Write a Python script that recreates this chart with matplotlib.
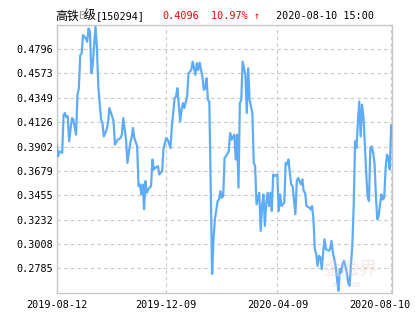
import matplotlib
matplotlib.use("Agg")
import matplotlib.pyplot as plt
import matplotlib.transforms as mtransforms

# trading-day index (0 = 2019-08-12) and NAV
days = [0, 1, 2, 4, 5, 6, 7, 8, 9, 11, 12, 14, 15, 16, 17, 18, 19, 21, 22, 23,
        24, 25, 26, 28, 29, 30, 32, 33, 34, 36, 37, 38, 40, 41, 42, 44, 46, 47, 48, 50,
        51, 53, 54, 55, 56, 58, 59, 60, 61, 62, 63,
        64, 65, 66, 68, 69, 70, 71, 73, 74, 75, 76, 77, 79, 80, 82, 83, 85, 86, 87, 88,
        89, 90, 91, 92, 94, 95, 96, 97, 98, 99, 100, 101, 102, 103, 105, 106, 107, 108, 109, 110,
        112, 113, 114, 116, 117, 118, 119, 120, 121, 122, 124, 125,
        126, 128, 129, 130, 131, 132, 133, 134, 136, 137, 138, 139, 141, 142, 143, 144, 146, 147, 148, 149,
        150, 151, 152, 153, 154, 155, 156, 157, 159, 160, 161, 162, 163, 164, 165, 166, 167, 168, 169, 170,
        172, 173, 174, 176, 177, 178, 179, 180, 182, 183, 184, 185, 186,
        187, 188, 189, 190, 191, 192, 193, 194, 196, 197, 198, 199, 200, 201, 202, 203, 204, 205, 206, 207,
        208, 209, 210, 211, 212, 213, 214, 215, 216, 217, 218, 219, 220, 221, 222, 223, 224, 225, 226, 227,
        228, 229, 230, 231, 232, 233, 234, 235, 236, 237, 238, 239, 240, 241]
nav = [0.3919, 0.3813, 0.3858, 0.3844, 0.4193, 0.4209, 0.4172, 0.4180, 0.3950, 0.4163,
       0.4150, 0.4011, 0.4376, 0.4437, 0.4741, 0.4757, 0.4924, 0.4894, 0.4863, 0.4985,
       0.4954, 0.4574, 0.4650, 0.5000, 0.4817, 0.4452, 0.4148, 0.4118, 0.3995, 0.4057,
       0.4118, 0.4255, 0.4178, 0.4132, 0.3919, 0.3965, 0.3980, 0.4011, 0.4163, 0.3965,
       0.3752, 0.3935, 0.3980, 0.4072, 0.3980, 0.3904, 0.3539, 0.3554, 0.3463, 0.3554, 0.3326,
       0.3585, 0.3478, 0.3509, 0.3539, 0.3783, 0.3691, 0.3707, 0.3722, 0.3646, 0.3661,
       0.3676, 0.3889, 0.3981, 0.3965, 0.3889, 0.4087, 0.4346, 0.4361, 0.4437, 0.4285,
       0.4132, 0.4239, 0.4300, 0.4255, 0.4361, 0.4574, 0.4589, 0.4604, 0.4680, 0.4620,
       0.4559, 0.4665, 0.4604, 0.4672, 0.4543, 0.4422, 0.4437, 0.4528, 0.4330, 0.4315,
       0.2733, 0.3052, 0.3235, 0.3402, 0.3417, 0.3493, 0.3432, 0.3448, 0.3798, 0.3813, 0.3858, 0.4026,
       0.3965, 0.4011, 0.3783, 0.4011, 0.3524, 0.4300, 0.4330, 0.4680, 0.4559, 0.4209,
       0.4620, 0.4330, 0.4209, 0.3752, 0.3722, 0.3372, 0.3478, 0.3128, 0.3357, 0.3463,
       0.3174, 0.3387, 0.3478, 0.3357, 0.3478, 0.3311, 0.3646, 0.3630, 0.3646, 0.3311,
       0.3463, 0.3357, 0.3372, 0.3387, 0.3752, 0.3737, 0.3783, 0.3661, 0.3554, 0.3539,
       0.3281, 0.3585, 0.3615, 0.3554, 0.3600, 0.3493, 0.3478, 0.3357, 0.3342, 0.3326, 0.3357, 0.3235, 0.2961,
       0.2915, 0.2808, 0.2900, 0.2885, 0.2778, 0.2931, 0.3052, 0.2961, 0.2946, 0.2961,
       0.3037, 0.2931, 0.2870, 0.2808, 0.2687, 0.2580, 0.2778, 0.2748, 0.2824, 0.2854,
       0.2808, 0.2748, 0.2657, 0.2626, 0.2808, 0.2991, 0.3357, 0.3950, 0.3889, 0.4118,
       0.4315, 0.3995, 0.4285, 0.4178, 0.3935, 0.3661, 0.3448, 0.3402, 0.3889, 0.3904,
       0.3843, 0.3752, 0.3448, 0.3235, 0.3265, 0.3372, 0.3463, 0.3417, 0.3432, 0.3707,
       0.3828, 0.3798, 0.3691, 0.4096]

y_ticks = [0.2785, 0.3008, 0.3232, 0.3455, 0.3679, 0.3902, 0.4126, 0.4349, 0.4573, 0.4796]
x_tick_days = [0, 79, 159, 241]
x_tick_labels = ["2019-08-12", "2019-12-09", "2020-04-09", "2020-08-10"]

fund_name = "[150294]"
last_price = "0.4096"
change_pct = "10.97% ↑"
timestamp = "2020-08-10 15:00"

GRID = "#c8c8c8"
LINE = "#5eacf8"
MONO = "DejaVu Sans Mono"
CJK = "Noto Sans CJK SC"

fig = plt.figure(figsize=(4.15, 3.30), dpi=100)
ax = fig.add_axes([56.5 / 415, 1 - 292.7 / 330, 335.5 / 415, (292.7 - 24.7) / 330])

ax.plot(days, nav, color=LINE, linewidth=1.6, solid_joinstyle="round", zorder=3)

ax.set_xlim(-0.1, 241.6)
ax.set_ylim(0.25616, 0.50194)
ax.set_yticks(y_ticks)
ax.set_yticklabels([f"{v:.4f}" for v in y_ticks], fontsize=7.3, family=MONO)
ax.set_xticks(x_tick_days)
ax.set_xticklabels(x_tick_labels, fontsize=7.3, family=MONO)
ax.tick_params(axis="both", length=0, colors="black")
ax.tick_params(axis="y", pad=2.5)
ax.tick_params(axis="x", pad=5)

ax.grid(True, color=GRID, linestyle=(0, (3, 3)), linewidth=0.8)
ax.set_axisbelow(True)
for sp in ax.spines.values():
    sp.set_color(GRID)
    sp.set_linewidth(1.0)

# last date label is pushed left so it fits in the figure
last = ax.get_xticklabels()[-1]
last.set_transform(last.get_transform() + mtransforms.ScaledTranslation(-11 / 100, 0, fig.dpi_scale_trans))

# header line
ty = 1 - 16 / 330
fig.text(55 / 415, ty, "高铁", fontsize=8.6, family=CJK, va="center", ha="left")
fig.text(78.5 / 415, ty, "B", fontsize=8.0, family=MONO, va="center", ha="left", color="#9a9a9a")
fig.text(84 / 415, ty, "级", fontsize=8.6, family=CJK, va="center", ha="left")
fig.text(96 / 415, ty, fund_name, fontsize=7.3, family=MONO, va="center", ha="left")
fig.text(162.7 / 415, ty, last_price, fontsize=7.3, family=MONO, va="center", ha="left", color="red")
fig.text(211 / 415, ty, change_pct, fontsize=7.3, family=MONO, va="center", ha="left", color="red")
fig.text(276 / 415, ty, timestamp, fontsize=7.3, family=MONO, va="center", ha="left")

# faint watermark
fig.text(350 / 415, 1 - 270 / 330, "金融界", fontsize=13, family=CJK, va="center", ha="center",
         color="#e8c8c8", alpha=0.45, zorder=1)
fig.text(345 / 415, 1 - 285 / 330, "JRJ.COM", fontsize=5, family=MONO, va="center", ha="center",
         color="#d8b8b8", alpha=0.45, zorder=1)

fig.savefig("out.png", dpi=100)
plt.close(fig)
